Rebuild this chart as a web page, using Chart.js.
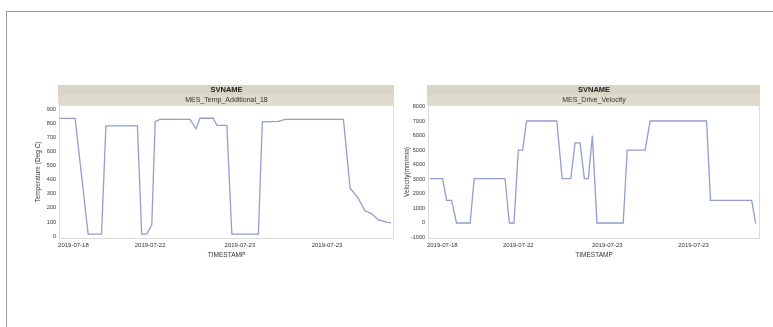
<!DOCTYPE html>
<html>
<head>
<meta charset="utf-8">
<script src="https://cdn.jsdelivr.net/npm/chart.js@4"></script>
<style>
  body { margin: 0; background: #fff; width: 773px; height: 327px; overflow: hidden; position: relative; }
  .frame { position: absolute; left: 6px; top: 11px; width: 780px; height: 330px; border-top: 1px solid #9a9a9a; border-left: 1px solid #9a9a9a; }
  .box { position: absolute; top: 80px; height: 179px; }
</style>
</head>
<body>
<div class="frame"></div>
<div class="box" style="left:30px;width:366px"><canvas id="tempChart"></canvas></div>
<div class="box" style="left:399px;width:363px"><canvas id="velChart"></canvas></div>
<script>
// 横軸の目盛り位置とラベル
const xTickPos = [4.3, 27.2, 54.0, 80.0];
const xTickLabels = ['2019-07-18', '2019-07-22', '2019-07-23', '2019-07-23'];

// 縦軸の目盛り
const tempTicks = [0, 100, 200, 300, 400, 500, 600, 700, 800, 900];
const velTicks = [-1000, 0, 1000, 2000, 3000, 4000, 5000, 6000, 7000, 8000];

// MES_Temp_Additional_18
const tempX = [0.1, 4.8, 8.7, 12.7, 14.0, 23.4, 24.7, 26.2, 27.7, 28.7, 30.1, 39.1, 40.9, 42.1, 46.0, 47.2, 50.1, 51.6, 59.5, 60.7, 65.5, 67.5, 84.9, 86.9, 89.3, 91.3, 93.3, 95.3, 97.8, 99.1];
const tempY = [835, 835, 15, 15, 782, 782, 15, 15, 80, 812, 828, 828, 762, 836, 836, 785, 785, 15, 15, 810, 814, 828, 828, 340, 270, 180, 160, 115, 100, 95];

// MES_Drive_Velocity
const velX = [0.6, 4.4, 5.6, 7.1, 8.6, 12.7, 13.9, 23.2, 24.5, 25.9, 27.2, 28.5, 29.7, 38.8, 40.4, 43.0, 44.3, 45.8, 47.1, 48.3, 49.5, 50.9, 58.8, 60.0, 65.4, 66.9, 83.9, 85.1, 97.5, 98.7];
const velY = [3050, 3050, 1550, 1550, 0, 0, 3050, 3050, 0, 0, 5000, 5000, 7000, 7000, 3050, 3050, 5500, 5500, 3050, 3050, 6000, 0, 0, 5000, 5000, 7000, 7000, 1550, 1550, -50];

const FONT = '"Liberation Sans", Arial, sans-serif';

// ヘッダー（SVNAME）と枠線を描くプラグイン
const panelPlugin = {
    id: 'panel',
    beforeDraw(chart, args, opts) {
        const { ctx, chartArea: a } = chart;
        const w = a.right - a.left;
        ctx.save();
        ctx.fillStyle = '#d8d5c4';
        ctx.fillRect(a.left - 1, a.top - 20, w + 1, 10);
        ctx.fillStyle = '#dfdccd';
        ctx.fillRect(a.left - 1, a.top - 10, w + 1, 10);
        ctx.fillStyle = '#222';
        ctx.textAlign = 'center';
        ctx.textBaseline = 'middle';
        ctx.font = 'bold 7.5px ' + FONT;
        ctx.fillText(opts.title, a.left + w / 2, a.top - 15);
        ctx.font = '7px ' + FONT;
        ctx.fillStyle = '#333';
        ctx.fillText(opts.subtitle, a.left + w / 2, a.top - 5);
        ctx.strokeStyle = '#dcdcdc';
        ctx.lineWidth = 1;
        ctx.strokeRect(a.left + 0.5, a.top + 0.5, w - 1, a.bottom - a.top - 1);
        ctx.restore();
    }
};

function makeChart(id, xs, ys, yMin, yMax, yTicks, yTitle, subtitle) {
    const ctx = document.getElementById(id).getContext('2d');
    return new Chart(ctx, {
        type: 'line',
        data: {
            datasets: [{
                data: xs.map((x, i) => ({ x, y: ys[i] })),
                borderColor: '#929dd0',
                borderWidth: 1.3,
                pointRadius: 0,
                tension: 0,
                fill: false
            }]
        },
        options: {
            responsive: true,
            maintainAspectRatio: false,
            animation: false,
            layout: { padding: { top: 25, right: 2, left: 0, bottom: 0 } },
            scales: {
                x: {
                    type: 'linear',
                    min: 0,
                    max: 100,
                    afterBuildTicks: scale => { scale.ticks = xTickPos.map(v => ({ value: v })); },
                    afterFit: scale => { scale.height = 20; },
                    grid: { display: false, drawTicks: false },
                    border: { display: false },
                    ticks: {
                        autoSkip: false,
                        maxRotation: 0,
                        padding: 3,
                        color: '#333',
                        font: { family: FONT, size: 6 },
                        callback: (v, i) => xTickLabels[i]
                    },
                    title: {
                        display: true,
                        text: 'TIMESTAMP',
                        color: '#333',
                        padding: { top: 1, bottom: 0 },
                        font: { family: FONT, size: 6.5 }
                    }
                },
                y: {
                    min: yMin,
                    max: yMax,
                    afterBuildTicks: scale => { scale.ticks = yTicks.map(v => ({ value: v })); },
                    afterFit: scale => { scale.width = 29; },
                    grid: { display: false, drawTicks: false },
                    border: { display: false },
                    ticks: {
                        autoSkip: false,
                        padding: 3,
                        color: '#333',
                        font: { family: FONT, size: 5.5 },
                        callback: (v, i) => String(yTicks[i])
                    },
                    title: {
                        display: true,
                        text: yTitle,
                        color: '#333',
                        padding: { top: 4, bottom: 2 },
                        font: { family: FONT, size: 6.5 }
                    }
                }
            },
            plugins: {
                legend: { display: false },
                tooltip: { enabled: false },
                panel: { title: 'SVNAME', subtitle }
            }
        },
        plugins: [panelPlugin]
    });
}

makeChart('tempChart', tempX, tempY, -20, 930, tempTicks, 'Temperature (Deg C)', 'MES_Temp_Additional_18');
makeChart('velChart', velX, velY, -1100, 8100, velTicks, 'Velocity(mm/min)', 'MES_Drive_Velocity');
</script>
</body>
</html>
